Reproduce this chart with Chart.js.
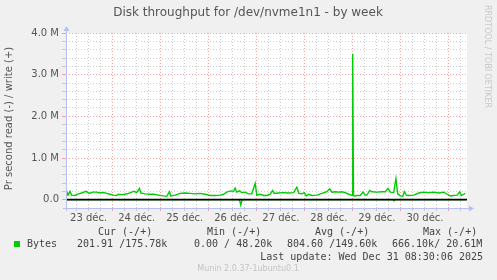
<!DOCTYPE html>
<html>
<head>
<meta charset="utf-8">
<script src="https://cdn.jsdelivr.net/npm/chart.js@4.4.1/dist/chart.umd.min.js"></script>
<style>
  html, body { margin: 0; padding: 0; background: #f0f0f0; }
  #wrap { width: 497px; height: 280px; }
</style>
</head>
<body>
<div id="wrap"><canvas id="myChart" width="497" height="280"></canvas></div>
<script>
// hours since 23 déc. 00:00, values in M bytes/s
const writeHours = [0.7, 1.0, 1.7, 2.7, 3.5, 5.2, 6.9, 8.5, 10.7, 12.4, 14.0, 16.0, 17.7, 19.4, 21.0, 22.7,
    24.4, 26.0, 26.9, 28.5, 30.2, 31.9, 33.5, 34.7, 36.0, 37.4, 38.0, 40.2, 42.7, 44.4, 46.9,
    49.4, 51.0, 52.4, 53.0, 55.2, 57.7, 60.2, 62.7, 65.2, 67.7, 70.2, 72.7, 75.2, 77.7, 79.4,
    81.0, 82.7, 84.4, 85.2, 86.0, 87.4, 88.5, 90.2, 91.8, 93.5, 95.2, 96.0, 97.7, 99.4, 101.0,
    102.7, 103.9, 104.7, 106.8, 109.4, 111.9, 114.4, 116.0, 117.0, 118.5, 119.7, 120.7, 121.9,
    123.5, 126.0, 128.5, 131.0, 132.4, 133.5, 135.2, 136.9, 138.5, 140.2, 141.9, 143.2, 143.6,
    143.9, 144.3, 144.7, 146.0, 147.7, 149.0, 150.2, 151.0, 152.4, 153.5, 156.0, 158.5, 160.2,
    161.5, 162.7, 164.4, 165.5, 166.4, 167.7, 168.9, 169.7, 170.7, 171.9, 174.4, 176.9, 179.4,
    181.9, 184.4, 186.9, 189.4, 191.0, 192.7, 194.4, 196.0, 197.4, 198.2, 199.4, 200.2];
const writeValues = [0.11, 0.21, 0.11, 0.20, 0.11, 0.10, 0.14, 0.16, 0.20, 0.15, 0.18, 0.18, 0.16, 0.17, 0.15, 0.13,
    0.11, 0.10, 0.13, 0.12, 0.13, 0.15, 0.18, 0.20, 0.17, 0.27, 0.16, 0.14, 0.13, 0.13, 0.11,
    0.09, 0.08, 0.19, 0.09, 0.11, 0.15, 0.16, 0.15, 0.14, 0.15, 0.13, 0.10, 0.10, 0.11, 0.13,
    0.18, 0.21, 0.20, 0.28, 0.18, 0.21, 0.17, 0.18, 0.14, 0.14, 0.39, 0.11, 0.13, 0.10, 0.10,
    0.13, 0.22, 0.15, 0.16, 0.17, 0.16, 0.17, 0.30, 0.15, 0.14, 0.17, 0.09, 0.13,
    0.10, 0.11, 0.15, 0.19, 0.26, 0.18, 0.19, 0.18, 0.19, 0.17, 0.13, 0.11, 0.10,
    3.50, 0.10, 0.09, 0.10, 0.10, 0.18, 0.11, 0.11, 0.22, 0.19, 0.18, 0.19, 0.19,
    0.27, 0.18, 0.17, 0.50, 0.14, 0.09, 0.08, 0.19, 0.11, 0.10, 0.11, 0.16, 0.18,
    0.17, 0.18, 0.16, 0.18, 0.13, 0.09, 0.10, 0.11, 0.19, 0.10, 0.13, 0.15];
const readHours = [0.7, 87.0, 87.5, 88.0, 88.5, 89.0, 164.0, 164.5, 165.0, 200.2];
const readValues = [0, 0, 0.03, 0.13, 0.03, 0, 0, 0.03, 0, 0];

const dayLabels = ['23 déc.', '24 déc.', '25 déc.', '26 déc.', '27 déc.', '28 déc.', '29 déc.', '30 déc.'];
const yMajor = [0, 1, 2, 3, 4];
const yLabels = ['0.0', '1.0 M', '2.0 M', '3.0 M', '4.0 M'];

const legendHeaders = ['Cur (-/+)', 'Min (-/+)', 'Avg (-/+)', 'Max (-/+)'];
const legendValues = ['201.91 /175.78k', '0.00 / 48.20k', '804.60 /149.60k', '666.10k/ 20.61M'];
const seriesName = 'Bytes';
const lastUpdate = 'Last update: Wed Dec 31 08:30:06 2025';

const GREEN = '#00cc00';
const AXIS = '#b8c0f0';
const MINOR = 'rgba(190,190,190,0.75)';
const MAJOR = 'rgba(240,140,140,0.8)';

// x ticks every 6 hours, label at noon
const xTicks = [];
for (let h = 6; h <= 198; h += 6) xTicks.push(h);
const yTicks = [];
for (let i = -1; i <= 20; i++) yTicks.push(i / 5);

const munin = {
    id: 'munin',
    beforeDraw(chart) {
        const c = chart.ctx, a = chart.chartArea;
        c.save();
        c.fillStyle = '#f0f0f0';
        c.fillRect(0, 0, chart.width, chart.height);
        c.fillStyle = '#ffffff';
        c.fillRect(a.left, a.top, a.right - a.left, a.bottom - a.top);
        c.restore();
    },
    afterDraw(chart) {
        const c = chart.ctx, a = chart.chartArea;
        c.save();
        // axes with arrows
        c.strokeStyle = AXIS;
        c.fillStyle = AXIS;
        c.lineWidth = 1;
        c.beginPath();
        c.moveTo(a.left - 3, a.bottom + 0.5);
        c.lineTo(a.right + 3, a.bottom + 0.5);
        c.moveTo(a.left + 0.5, a.bottom + 3);
        c.lineTo(a.left + 0.5, a.top - 3);
        c.stroke();
        c.beginPath();
        c.moveTo(a.right + 7, a.bottom + 0.5);
        c.lineTo(a.right + 2, a.bottom - 2.5);
        c.lineTo(a.right + 2, a.bottom + 3.5);
        c.fill();
        c.beginPath();
        c.moveTo(a.left + 0.5, a.top - 7);
        c.lineTo(a.left - 2.5, a.top - 2);
        c.lineTo(a.left + 3.5, a.top - 2);
        c.fill();

        // title
        c.fillStyle = '#555';
        c.font = '12px "DejaVu Sans"';
        c.textAlign = 'center';
        c.textBaseline = 'middle';
        c.fillText('Disk throughput for /dev/nvme1n1 - by week', 248, 13);

        // y axis title
        c.save();
        c.translate(9, (a.top + a.bottom) / 2 - 2);
        c.rotate(-Math.PI / 2);
        c.font = '10px "DejaVu Sans"';
        c.fillText('Pr second read (-) / write (+)', 0, 0);
        c.restore();

        // watermark
        c.save();
        c.translate(487, 5);
        c.rotate(Math.PI / 2);
        c.fillStyle = '#c8c8c8';
        c.font = '8px "DejaVu Sans"';
        c.textAlign = 'left';
        c.fillText('RRDTOOL / TOBI OETIKER', 0, 0);
        c.restore();

        // legend
        c.fillStyle = '#444';
        c.font = '10px "DejaVu Sans Mono"';
        c.textAlign = 'left';
        const hx = [98, 207, 315, 423];
        legendHeaders.forEach((t, i) => c.fillText(t, hx[i], 232));
        const vx = [77, 194, 287, 392];
        legendValues.forEach((t, i) => c.fillText(t, vx[i], 244.5));
        c.fillText(seriesName, 27, 244.5);
        c.fillStyle = GREEN;
        c.fillRect(14, 241, 6, 6);
        c.fillStyle = '#444';
        c.textAlign = 'right';
        c.fillText(lastUpdate, 483, 257);

        c.fillStyle = '#c4c4c4';
        c.font = '8px "DejaVu Sans"';
        c.textAlign = 'center';
        c.fillText('Munin 2.0.37-1ubuntu0.1', 248, 269);
        c.restore();
    }
};

const ctx = document.getElementById('myChart').getContext('2d');
const myChart = new Chart(ctx, {
    type: 'line',
    data: {
        datasets: [{
            // zero line, drawn on top
            data: [{ x: 0.7, y: 0 }, { x: 201, y: 0 }],
            borderColor: '#000000',
            borderWidth: 1.6,
            pointRadius: 0
        }, {
            label: 'write',
            data: writeHours.map((h, i) => ({ x: h, y: writeValues[i] })),
            borderColor: GREEN,
            borderWidth: 1.4,
            pointRadius: 0,
            tension: 0
        }, {
            label: 'read',
            data: readHours.map((h, i) => ({ x: h, y: -readValues[i] })),
            borderColor: GREEN,
            borderWidth: 1.4,
            pointRadius: 0,
            tension: 0
        }]
    },
    options: {
        responsive: false,
        animation: false,
        layout: { padding: { left: 0, top: 33, right: 30, bottom: 52 } },
        plugins: {
            legend: { display: false },
            tooltip: { enabled: false }
        },
        scales: {
            x: {
                type: 'linear',
                min: 0.7,
                max: 201,
                afterBuildTicks: (scale) => { scale.ticks = xTicks.map(v => ({ value: v })); },
                afterFit: (scale) => { scale.height = 20; },
                border: { display: false, dash: [1, 2] },
                grid: {
                    color: (c) => c.tick && c.tick.value % 24 === 0 ? MAJOR : MINOR,
                    tickLength: 3,
                    lineWidth: 1
                },
                ticks: {
                    autoSkip: false,
                    maxRotation: 0,
                    padding: 1,
                    color: '#555',
                    font: { family: 'DejaVu Sans', size: 10 },
                    callback: (v) => (v % 24 === 12 ? dayLabels[(v - 12) / 24] : '')
                }
            },
            y: {
                type: 'linear',
                min: -0.2,
                max: 4.0,
                afterBuildTicks: (scale) => { scale.ticks = yTicks.map(v => ({ value: v })); },
                afterFit: (scale) => { scale.width = 66; },
                border: { display: false, dash: [1, 2] },
                grid: {
                    color: (c) => {
                        if (!c.tick || c.tick.value < -0.1) return 'rgba(0,0,0,0)';
                        const m = Math.abs(c.tick.value - Math.round(c.tick.value)) < 0.01;
                        return m ? MAJOR : MINOR;
                    },
                    tickLength: 4,
                    lineWidth: 1
                },
                ticks: {
                    autoSkip: false,
                    padding: 3,
                    color: '#555',
                    font: { family: 'DejaVu Sans', size: 10 },
                    callback: (v) => {
                        const i = yMajor.findIndex(m => Math.abs(m - v) < 0.01);
                        return i >= 0 ? yLabels[i] : '';
                    }
                }
            }
        }
    },
    plugins: [munin]
});
</script>
</body>
</html>
